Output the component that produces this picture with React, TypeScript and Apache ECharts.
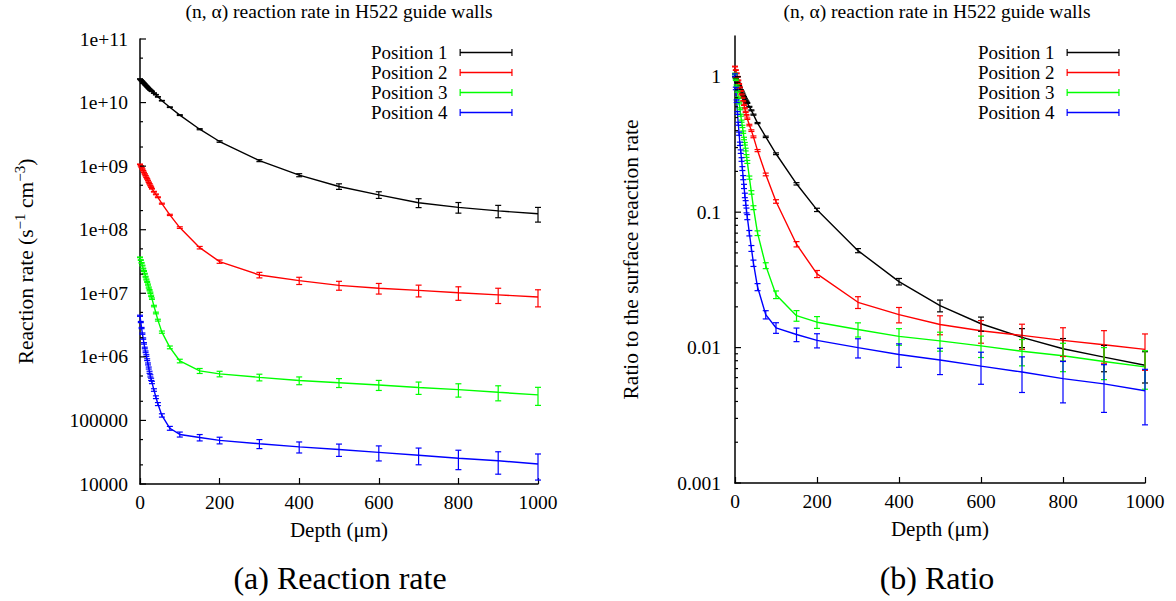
import React, { useEffect, useRef } from "react";
import * as echarts from "echarts";

// ---- data ----
const depths = [0, 2, 4, 6, 8, 10, 12, 14, 16, 18, 20, 22, 24, 26, 28, 30, 35, 40, 45, 55, 75, 100, 150, 200, 300, 400, 500, 600, 700, 800, 900, 1000];

const positionNames = ["Position 1", "Position 2", "Position 3", "Position 4"];
const positionColors = ["#000000", "#ff0000", "#00ff00", "#0000ff"];

// (a) reaction rate, s^-1 cm^-3
const rate1 = [2.35e10, 2.28e10, 2.21e10, 2.14e10, 2.07e10, 2.01e10, 1.95e10, 1.88e10, 1.83e10, 1.77e10, 1.72e10, 1.67e10, 1.62e10, 1.57e10, 1.54e10, 1.5e10, 1.41e10, 1.33e10, 1.23e10, 1.07e10, 8.46e9, 6.35e9, 3.81e9, 2.44e9, 1.22e9, 7.21e8, 4.79e8, 3.53e8, 2.65e8, 2.25e8, 1.98e8, 1.78e8];
const rate2 = [1.07e9, 1.01e9, 9.54e8, 9.0e8, 8.46e8, 7.97e8, 7.52e8, 7.07e8, 6.66e8, 6.3e8, 5.94e8, 5.58e8, 5.27e8, 4.95e8, 4.68e8, 4.41e8, 3.96e8, 3.6e8, 3.24e8, 2.57e8, 1.71e8, 1.08e8, 5.22e7, 3.15e7, 1.94e7, 1.58e7, 1.33e7, 1.2e7, 1.11e7, 1.02e7, 9.45e6, 8.73e6];
const rate3 = [3.68e7, 3.33e7, 3.01e7, 2.73e7, 2.45e7, 2.24e7, 2.03e7, 1.82e7, 1.65e7, 1.51e7, 1.37e7, 1.23e7, 1.12e7, 1.02e7, 9.1e6, 8.23e6, 6.3e6, 4.9e6, 3.78e6, 2.45e6, 1.41e6, 8.61e5, 6.02e5, 5.39e5, 4.76e5, 4.24e5, 3.92e5, 3.61e5, 3.29e5, 3.05e5, 2.77e5, 2.52e5];
const rate4 = [4.43e6, 3.53e6, 2.84e6, 2.32e6, 1.94e6, 1.63e6, 1.38e6, 1.2e6, 1.05e6, 9.03e5, 7.74e5, 6.67e5, 5.72e5, 5.03e5, 4.43e5, 3.96e5, 3.01e5, 2.32e5, 1.81e5, 1.2e5, 7.53e4, 6.02e4, 5.38e4, 4.86e4, 4.3e4, 3.83e4, 3.48e4, 3.14e4, 2.84e4, 2.54e4, 2.32e4, 2.06e4];

// (b) ratio to the surface reaction rate
const ratio1 = [1.0, 0.97, 0.94, 0.91, 0.88, 0.855, 0.83, 0.8, 0.78, 0.755, 0.73, 0.71, 0.69, 0.67, 0.655, 0.64, 0.6, 0.565, 0.525, 0.455, 0.36, 0.27, 0.162, 0.104, 0.052, 0.0307, 0.0204, 0.015, 0.0119, 0.0098, 0.0085, 0.0074];
const ratio2 = [1.19, 1.12, 1.06, 1.0, 0.94, 0.885, 0.835, 0.785, 0.74, 0.7, 0.66, 0.62, 0.585, 0.55, 0.52, 0.49, 0.44, 0.4, 0.36, 0.285, 0.19, 0.12, 0.058, 0.035, 0.0216, 0.0175, 0.0148, 0.0133, 0.0123, 0.0113, 0.0105, 0.0097];
const ratio3 = [1.05, 0.95, 0.86, 0.78, 0.7, 0.64, 0.58, 0.52, 0.47, 0.43, 0.39, 0.35, 0.32, 0.29, 0.26, 0.235, 0.18, 0.14, 0.108, 0.07, 0.0403, 0.0246, 0.0172, 0.0154, 0.0136, 0.0121, 0.0112, 0.0103, 0.0094, 0.0087, 0.0079, 0.0072];
const ratio4 = [1.03, 0.82, 0.66, 0.54, 0.45, 0.38, 0.32, 0.28, 0.245, 0.21, 0.18, 0.155, 0.133, 0.117, 0.103, 0.092, 0.07, 0.054, 0.042, 0.028, 0.0175, 0.014, 0.0125, 0.0113, 0.01, 0.0089, 0.0081, 0.0073, 0.0066, 0.0059, 0.0054, 0.0048];

// relative (fractional) statistical error of each point
const relErr1 = [0.004, 0.004, 0.004, 0.005, 0.005, 0.005, 0.005, 0.005, 0.006, 0.006, 0.006, 0.006, 0.006, 0.007, 0.007, 0.007, 0.008, 0.008, 0.009, 0.01, 0.012, 0.015, 0.02, 0.028, 0.035, 0.055, 0.1, 0.12, 0.16, 0.19, 0.22, 0.26];
const relErr2 = [0.006, 0.006, 0.007, 0.007, 0.007, 0.008, 0.008, 0.008, 0.009, 0.009, 0.009, 0.01, 0.01, 0.011, 0.011, 0.012, 0.013, 0.014, 0.015, 0.018, 0.023, 0.03, 0.045, 0.06, 0.1, 0.13, 0.16, 0.19, 0.21, 0.24, 0.27, 0.3];
const relErr3 = [0.012, 0.012, 0.013, 0.014, 0.014, 0.015, 0.016, 0.017, 0.018, 0.019, 0.02, 0.021, 0.022, 0.023, 0.024, 0.025, 0.027, 0.03, 0.033, 0.04, 0.05, 0.065, 0.09, 0.1, 0.12, 0.14, 0.16, 0.18, 0.22, 0.237, 0.266, 0.316];
const relErr4 = [0.02, 0.021, 0.022, 0.024, 0.025, 0.027, 0.028, 0.03, 0.031, 0.033, 0.035, 0.036, 0.038, 0.04, 0.041, 0.043, 0.046, 0.05, 0.054, 0.06, 0.07, 0.09, 0.115, 0.12, 0.162, 0.197, 0.22, 0.266, 0.294, 0.338, 0.385, 0.44];

// axes
const leftMajorTicks = [1e4, 1e5, 1e6, 1e7, 1e8, 1e9, 1e10, 1e11];
const leftTickLabels = ["10000", "100000", "1e+06", "1e+07", "1e+08", "1e+09", "1e+10", "1e+11"];
const leftMinorMultipliers = [2, 5];
const rightMajorTicks = [0.001, 0.01, 0.1, 1];
const rightTickLabels = ["0.001", "0.01", "0.1", "1"];
const rightMinorMultipliers = [2, 3, 4, 5, 6, 7, 8, 9];

const chartTitle = "(n, \u03b1) reaction rate in H522 guide walls";
const captionA = "(a) Reaction rate";
const captionB = "(b) Ratio";

const FONT = "Liberation Serif";

const rates = [rate1, rate2, rate3, rate4];
const ratios = [ratio1, ratio2, ratio3, ratio4];
const relErrs = [relErr1, relErr2, relErr3, relErr4];

const capIcon = "path://M0,0H1.2V2.8H51.8V0H53V7H51.8V4.2H1.2V7H0Z";

function makeFormatter(majors: number[], labels: string[]) {
  return (v: number) => {
    const i = majors.findIndex((t) => Math.abs(Math.log10(v) - Math.log10(t)) < 1e-6);
    return i >= 0 ? labels[i] : "";
  };
}

function lineSeries(g: number, k: number, values: number[]) {
  return {
    type: "line",
    name: positionNames[k],
    xAxisIndex: g,
    yAxisIndex: g,
    data: depths.map((d, i) => [d, values[i]]),
    showSymbol: false,
    symbol: "none",
    lineStyle: { color: positionColors[k], width: 1.4 },
    itemStyle: { color: positionColors[k] },
    silent: true,
    z: 2,
  };
}

function errorSeries(g: number, k: number, values: number[], errs: number[]) {
  const color = positionColors[k];
  return {
    type: "custom",
    name: positionNames[k],
    xAxisIndex: g,
    yAxisIndex: g,
    data: depths.map((d, i) => [d, values[i] * (1 - errs[i]), values[i] * (1 + errs[i])]),
    encode: { x: 0, y: [1, 2] },
    itemStyle: { color },
    silent: true,
    z: 3,
    renderItem: (_p: any, api: any) => {
      const x = api.value(0);
      const a = api.coord([x, api.value(1)]);
      const b = api.coord([x, api.value(2)]);
      const style = { stroke: color, lineWidth: 1.2 };
      return {
        type: "group",
        children: [
          { type: "line", shape: { x1: a[0], y1: a[1], x2: b[0], y2: b[1] }, style },
          { type: "line", shape: { x1: a[0] - 3, y1: a[1], x2: a[0] + 3, y2: a[1] }, style },
          { type: "line", shape: { x1: b[0] - 3, y1: b[1], x2: b[0] + 3, y2: b[1] }, style },
        ],
      };
    },
  };
}

function tickSeries(g: number, majors: number[], multipliers: number[]) {
  const data: number[][] = [];
  majors.forEach((m) => data.push([0, m, 1]));
  majors.slice(0, -1).forEach((m) => multipliers.forEach((k) => data.push([0, m * k, 0])));
  return {
    type: "custom",
    xAxisIndex: g,
    yAxisIndex: g,
    data,
    encode: { x: 0, y: 1 },
    silent: true,
    z: 4,
    renderItem: (_p: any, api: any) => {
      const c = api.coord([api.value(0), api.value(1)]);
      const len = api.value(2) ? 6 : 3;
      return {
        type: "line",
        shape: { x1: c[0], y1: c[1], x2: c[0] + len, y2: c[1] },
        style: { stroke: "#000", lineWidth: 1.2 },
      };
    },
  };
}

function xAxisFor(g: number) {
  return {
    gridIndex: g,
    type: "value",
    min: 0,
    max: 1000,
    interval: 200,
    axisLine: { show: true, onZero: false, lineStyle: { color: "#000", width: 1.5 } },
    axisTick: { show: true, inside: true, length: 6, lineStyle: { color: "#000", width: 1.2 } },
    axisLabel: { color: "#000", fontFamily: FONT, fontSize: 19.5, margin: 8, formatter: (v: number) => String(v) },
    splitLine: { show: false },
    name: "Depth (\u03bcm)",
    nameLocation: "middle",
    nameGap: 35,
    nameTextStyle: { color: "#000", fontFamily: FONT, fontSize: 21 },
  };
}

function legendFor(left: number) {
  return {
    data: positionNames.map((n) => ({ name: n, icon: capIcon })),
    orient: "vertical",
    left,
    top: 43,
    align: "right",
    itemWidth: 53,
    itemHeight: 7,
    itemGap: 1,
    selectedMode: false,
    padding: 0,
    textStyle: { color: "#000", fontFamily: FONT, fontSize: 19, padding: [0, 7, 0, 0] },
  };
}

function titleText(x: number) {
  return {
    type: "text",
    x,
    y: 11,
    style: { text: chartTitle, fontFamily: FONT, fontSize: 19.5, fill: "#000", align: "center", verticalAlign: "middle" },
  };
}

export default function App() {
  const ref = useRef<HTMLDivElement>(null);
  useEffect(() => {
    document.body.style.margin = "0";
    if (!ref.current) return;
    const chart = echarts.init(ref.current, null, { renderer: "svg" });
    const series: any[] = [];
    for (let k = 0; k < 4; k++) {
      series.push(lineSeries(0, k, rates[k]));
      series.push(errorSeries(0, k, rates[k], relErrs[k]));
      series.push(lineSeries(1, k, ratios[k]));
      series.push(errorSeries(1, k, ratios[k], relErrs[k]));
    }
    series.push(tickSeries(0, leftMajorTicks, leftMinorMultipliers));
    series.push(tickSeries(1, rightMajorTicks, rightMinorMultipliers));

    const option: any = {
      animation: false,
      backgroundColor: "#ffffff",
      legend: [legendFor(371), legendFor(978)],
      grid: [
        { left: 140, top: 39, width: 398, height: 445 },
        { left: 735, top: 36, width: 410, height: 447 },
      ],
      xAxis: [xAxisFor(0), xAxisFor(1)],
      yAxis: [
        {
          gridIndex: 0,
          type: "log",
          logBase: 10,
          min: 1e4,
          max: 1e11,
          axisLine: { show: true, lineStyle: { color: "#000", width: 1.5 } },
          axisTick: { show: false },
          axisLabel: { color: "#000", fontFamily: FONT, fontSize: 19.5, margin: 12, formatter: makeFormatter(leftMajorTicks, leftTickLabels) },
          splitLine: { show: false },
          minorTick: { show: false },
          name: "Reaction rate (s{sup|\u22121} cm{sup|\u22123})",
          nameLocation: "middle",
          nameRotate: 90,
          nameGap: 100,
          nameTextStyle: {
            color: "#000",
            fontFamily: FONT,
            fontSize: 21.5,
            lineHeight: 28,
            rich: { sup: { fontSize: 15, fontFamily: FONT, color: "#000", verticalAlign: "top", lineHeight: 15 } },
          },
        },
        {
          gridIndex: 1,
          type: "log",
          logBase: 10,
          min: 0.001,
          max: 2,
          axisLine: { show: true, lineStyle: { color: "#000", width: 1.5 } },
          axisTick: { show: false },
          axisLabel: { color: "#000", fontFamily: FONT, fontSize: 19.5, margin: 14, formatter: makeFormatter(rightMajorTicks, rightTickLabels) },
          splitLine: { show: false },
          minorTick: { show: false },
          name: "Ratio to the surface reaction rate",
          nameLocation: "middle",
          nameRotate: 90,
          nameGap: 93,
          nameTextStyle: { color: "#000", fontFamily: FONT, fontSize: 21.5 },
        },
      ],
      graphic: [
        titleText(339),
        titleText(937),
        { type: "text", x: 340, y: 578, style: { text: captionA, fontFamily: FONT, fontSize: 32, fill: "#000", align: "center", verticalAlign: "middle" } },
        { type: "text", x: 937, y: 578, style: { text: captionB, fontFamily: FONT, fontSize: 32, fill: "#000", align: "center", verticalAlign: "middle" } },
      ],
      series,
    };
    chart.setOption(option);
    return () => chart.dispose();
  }, []);
  return <div ref={ref} style={{ width: 1176, height: 601 }} />;
}
